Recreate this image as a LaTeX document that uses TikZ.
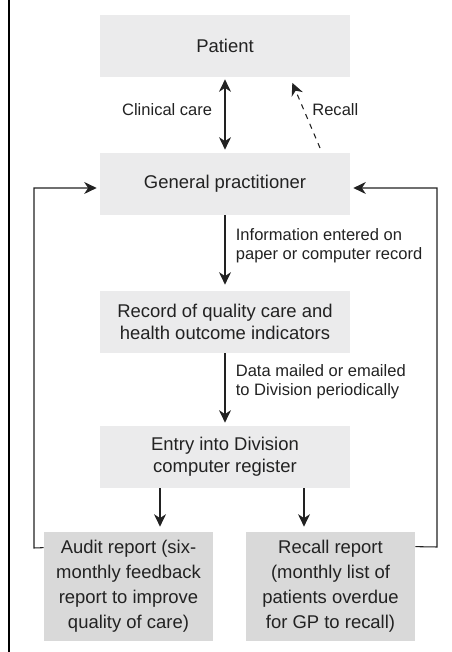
\documentclass[tikz,border=0pt]{standalone}
\usepackage{fontspec}
\setmainfont{Liberation Sans}
\usepackage{xcolor}
\usepackage{tikz}
\usetikzlibrary{arrows.meta}
\usetikzlibrary{calc}

\definecolor{boxgray}{HTML}{EBEBEC}
\definecolor{repgray}{HTML}{D9D9D9}
\definecolor{inkgray}{HTML}{222222}

\tikzset{
    box/.style={fill=boxgray,text=inkgray,minimum width=5cm,minimum height=1.24cm,align=center,
        font=\fontsize{10.5}{12.3}\selectfont},
    report/.style={fill=repgray,text=inkgray,minimum width=3.38cm,minimum height=2.18cm,align=center,
        font=\fontsize{10.5}{14.2}\selectfont},
    lbl/.style={text=inkgray,align=left,font=\fontsize{9.4}{10.8}\selectfont},
    tip/.tip={Stealth[length=2.5mm,width=2.4mm,inset=0.8mm]},
    arr/.style={draw=inkgray,line width=0.6pt,-tip}
}

\begin{document}
\begin{tikzpicture}
        \useasboundingbox (0,0) rectangle (9.02,13.04);
        \draw[line width=1.1pt] (0.18,0)--(0.18,13.04);

        \node[box] (patient) at (4.5,12.12) {Patient};
        \node[box] (gp) at (4.5,9.36) {General practitioner};
        \node[box] (record) at (4.5,6.6) {Record of quality care and\\health outcome indicators};
        \node[box] (entry) at (4.5,3.9) {Entry into Division\\computer register};
        \node[report] (audit) at (2.57,1.31) {Audit report (six-\\monthly feedback\\report to improve\\quality of care)};
        \node[report] (recallrep) at (6.61,1.31) {Recall report\\(monthly list of\\patients overdue\\for GP to recall)};

        \coordinate (lcorner) at (0.68,2.08);
        \coordinate (rcorner) at (8.74,2.1);

        \draw[arr,tip-tip,shorten <=0.4mm,shorten >=0.6mm]
            (patient.south)--node[lbl,left,xshift=-1.3mm,yshift=1mm]{Clinical care} (gp.north);
        \draw[arr,dashed,shorten <=1mm,shorten >=1.2mm]
            ([xshift=1.94cm]gp.north)--node[lbl,right,yshift=1mm]{Recall} ([xshift=1.3cm]patient.south);
        \draw[arr,shorten >=1.2mm] (gp.south)--node[lbl,right,xshift=0.9mm,yshift=1.5mm]{Information entered on\\paper or computer record} (record.north);
        \draw[arr,shorten >=0.6mm] (record.south)--node[lbl,right,xshift=0.9mm,yshift=1.5mm]{Data mailed or emailed\\to Division periodically} (entry.north);
        \draw[arr,shorten >=1mm] ([xshift=-1.3cm]entry.south)--([xshift=-1.3cm]entry.south |- audit.north);
        \draw[arr,shorten >=1mm] ([xshift=1.58cm]entry.south)--([xshift=1.58cm]entry.south |- recallrep.north);

        \draw[arr,shorten >=0.6mm] ([yshift=-3.2mm]audit.north west)--(lcorner) |- ([yshift=-0.8mm]gp.west);
        \draw[arr,shorten >=0.6mm] ([yshift=-3mm]recallrep.north east)--(rcorner) |- ([yshift=-0.8mm]gp.east);
    \end{tikzpicture}
\end{document}
